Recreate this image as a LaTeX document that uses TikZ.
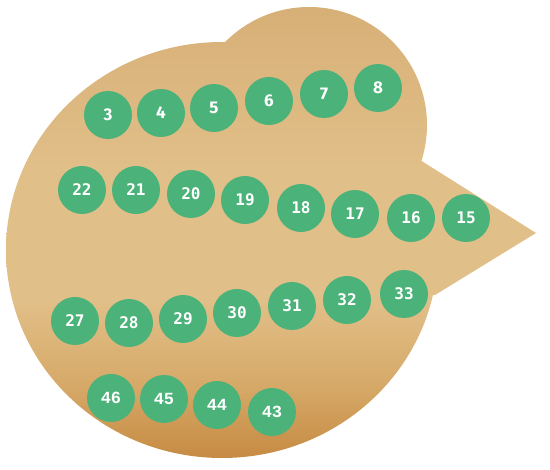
\documentclass[tikz,border=0pt]{standalone}
\usepackage{fontspec}
\newfontfamily\rowsans{Fira Sans}
\newfontfamily\rowmono{DejaVu Sans Mono}
\newfontfamily\rowcourier{Liberation Mono}
\definecolor{paperTop}{HTML}{D6AF76}
\definecolor{paperMid}{HTML}{E1BF88}
\definecolor{paperLow}{HTML}{D6A968}
\definecolor{paperBot}{HTML}{C4863D}
\definecolor{seatGreen}{HTML}{4BB27A}
\pgfdeclareverticalshading{kraft}{100bp}{color(0bp)=(paperBot); color(25bp)=(paperBot); color(34bp)=(paperLow); color(43bp)=(paperMid); color(57bp)=(paperMid); color(75bp)=(paperTop); color(100bp)=(paperTop)}
\tikzset{
  paperfill/.style={shading=kraft},
  seat/.style={circle, fill=seatGreen, minimum size=48pt, inner sep=0pt, text=white},
  rowone/.style={font=\fontsize{17}{18}\rowsans\bfseries},
  rowmid/.style={font=\fontsize{16}{18}\rowmono\bfseries},
  rowlast/.style={font=\fontsize{17}{18}\rowcourier\bfseries}
}
\begin{document}
\begin{tikzpicture}[x=1pt, y=-1pt]
    \useasboundingbox (0,0) rectangle (550,470);
    % Paper
    \begin{scope}
      \clip (222,250) ellipse (216 and 208); % body
      \shade[paperfill] (0,0) rectangle (550,470);
    \end{scope}
    \begin{scope}
      \clip (309,125) circle (118); % bump
      \shade[paperfill] (0,0) rectangle (550,470);
    \end{scope}
    \begin{scope}
      \clip (395,160) -- (420,160) -- (536,233) -- (435,295) -- (395,295) -- cycle; % pointer
      \shade[paperfill] (0,0) rectangle (550,470);
    \end{scope}

    % Row 1
    \node[seat, rowone] (n3) at (108,115) {3};
    \node[seat, rowone] (n4) at (161,113) {4};
    \node[seat, rowone] (n5) at (214,108) {5};
    \node[seat, rowone] (n6) at (269,101) {6};
    \node[seat, rowone] (n7) at (324,94) {7};
    \node[seat, rowone] (n8) at (378,88) {8};

    % Row 2
    \node[seat, rowmid] (n22) at (82,190) {22};
    \node[seat, rowmid] (n21) at (136,190) {21};
    \node[seat, rowmid] (n20) at (191,194) {20};
    \node[seat, rowmid] (n19) at (245,200) {19};
    \node[seat, rowmid] (n18) at (301,208) {18};
    \node[seat, rowmid] (n17) at (355,214) {17};
    \node[seat, rowmid] (n16) at (411,218) {16};
    \node[seat, rowmid] (n15) at (466,218) {15};

    % Row 3
    \node[seat, rowmid] (n27) at (75,321) {27};
    \node[seat, rowmid] (n28) at (129,323) {28};
    \node[seat, rowmid] (n29) at (183,319) {29};
    \node[seat, rowmid] (n30) at (237,313) {30};
    \node[seat, rowmid] (n31) at (292,306) {31};
    \node[seat, rowmid] (n32) at (347,300) {32};
    \node[seat, rowmid] (n33) at (404,294) {33};

    % Row 4
    \node[seat, rowlast] (n46) at (111,398) {46};
    \node[seat, rowlast] (n45) at (164,399) {45};
    \node[seat, rowlast] (n44) at (217,405) {44};
    \node[seat, rowlast] (n43) at (272,412) {43};
\end{tikzpicture}
\end{document}
